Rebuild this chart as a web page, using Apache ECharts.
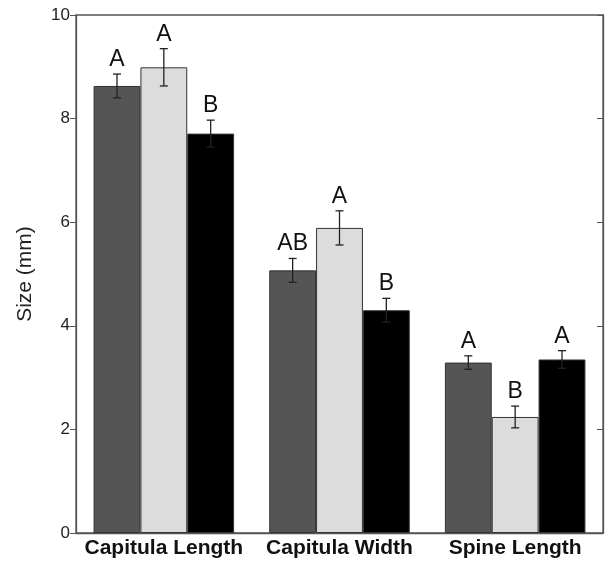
<!DOCTYPE html>
<html>
<head>
<meta charset="utf-8">
<script src="https://cdn.jsdelivr.net/npm/echarts@6/dist/echarts.min.js"></script>
<style>
  html, body { margin: 0; padding: 0; background: #fff; }
  #chart { width: 607px; height: 564px; }
</style>
</head>
<body>
<div id="chart"></div>
<script>
const categories = ['Capitula Length', 'Capitula Width', 'Spine Length'];
const yTicks = [0, 2, 4, 6, 8, 10];

// three groups, one value per category
const darkVals = [8.63, 5.07, 3.29];
const lightVals = [8.99, 5.89, 2.24];
const blackVals = [7.71, 4.30, 3.35];

const darkErr = [0.23, 0.23, 0.13];
const lightErr = [0.36, 0.33, 0.21];
const blackErr = [0.26, 0.23, 0.17];

const darkLetters = ['A', 'AB', 'A'];
const lightLetters = ['A', 'A', 'B'];
const blackLetters = ['B', 'B', 'A'];

const colors = ['#555555', '#dcdcdc', '#000000'];

const chart = echarts.init(document.getElementById('chart'));

// error bar + letter, offset to sit over bar k of 3 in each group
function errSeries(vals, errs, letters, k) {
  return {
    type: 'custom',
    z: 5,
    data: vals.map((v, i) => [i, v, errs[i]]),
    renderItem: function (params, api) {
      const i = api.value(0);
      const v = api.value(1);
      const e = api.value(2);
      const band = api.size([1, 0])[0];
      const barW = band * 0.8 / 3;
      const cx = api.coord([i, 0])[0] + (k - 1) * barW;
      const top = api.coord([i, v + e])[1];
      const bot = api.coord([i, v - e])[1];
      const cap = 4;
      const st = { stroke: '#222', lineWidth: 1.3 };
      return {
        type: 'group',
        children: [
          { type: 'line', shape: { x1: cx, y1: top, x2: cx, y2: bot }, style: st },
          { type: 'line', shape: { x1: cx - cap, y1: top, x2: cx + cap, y2: top }, style: st },
          { type: 'line', shape: { x1: cx - cap, y1: bot, x2: cx + cap, y2: bot }, style: st },
          {
            type: 'text',
            style: {
              x: cx, y: top - 3,
              text: letters[i],
              align: 'center', verticalAlign: 'bottom',
              font: '23px "Liberation Sans", Arial, sans-serif',
              fill: '#111'
            }
          }
        ]
      };
    }
  };
}

function barSeries(vals, k) {
  return {
    type: 'bar',
    data: vals,
    barGap: '0%',
    barCategoryGap: '20%',
    itemStyle: { color: colors[k], borderColor: '#333', borderWidth: 1 }
  };
}

const axisStyle = { lineStyle: { color: '#555', width: 1.3 } };

chart.setOption({
  animation: false,
  grid: {
    left: 76, right: 4, top: 15, bottom: 31,
    show: true, borderColor: '#555', borderWidth: 1.3
  },
  xAxis: {
    type: 'category',
    data: categories,
    axisLine: axisStyle,
    axisTick: { show: false },
    axisLabel: {
      interval: 0, hideOverlap: false,
      color: '#111', fontSize: 21, fontWeight: 'bold',
      fontFamily: '"Liberation Sans", Arial, sans-serif', margin: 5
    }
  },
  yAxis: [{
    type: 'value',
    min: 0, max: 10, interval: 2,
    name: 'Size (mm)',
    nameLocation: 'middle',
    nameGap: 40,
    nameTextStyle: { fontSize: 21, color: '#222', fontFamily: '"Liberation Sans", Arial, sans-serif' },
    axisLine: { show: true, lineStyle: { color: '#555', width: 1.3 } },
    axisTick: { show: true, length: 6, lineStyle: { color: '#555' } },
    axisLabel: {
      color: '#222', fontSize: 17, margin: 6,
      fontFamily: '"Liberation Sans", Arial, sans-serif',
      formatter: v => yTicks.includes(v) ? String(v) : ''
    },
    splitLine: { show: false }
  }, {
    type: 'value',
    position: 'right',
    min: 0, max: 10, interval: 2,
    axisLine: { show: true, lineStyle: { color: '#555', width: 1.3 } },
    axisTick: { show: true, inside: true, length: 6, lineStyle: { color: '#555' } },
    axisLabel: { show: false },
    splitLine: { show: false }
  }],
  series: [
    barSeries(darkVals, 0),
    barSeries(lightVals, 1),
    barSeries(blackVals, 2),
    errSeries(darkVals, darkErr, darkLetters, 0),
    errSeries(lightVals, lightErr, lightLetters, 1),
    errSeries(blackVals, blackErr, blackLetters, 2)
  ]
});
</script>
</body>
</html>
